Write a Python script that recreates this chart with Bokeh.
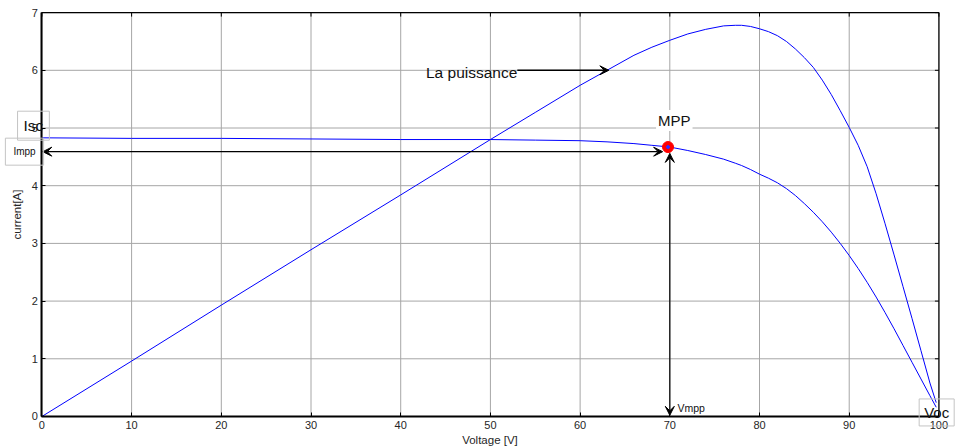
import math
from bokeh.plotting import figure
from bokeh.models import Label, Arrow, VeeHead, Range1d, FixedTicker
from bokeh.embed import file_html
from bokeh.resources import INLINE

# ---- data ----
voltage = [0, 10, 20, 30, 40, 50, 55, 60, 63, 66, 68, 70, 72, 74, 76, 77.3, 78, 79, 80, 81, 82, 83, 84, 85, 86, 87, 88,
           89, 90, 91, 92, 93, 94, 95, 96, 97, 98, 99, 99.7]
current = [4.83, 4.82, 4.82, 4.81, 4.80, 4.80, 4.79, 4.78, 4.76, 4.73, 4.70, 4.67, 4.61, 4.54, 4.46, 4.39, 4.35, 4.28,
           4.20, 4.13, 4.05, 3.95, 3.83, 3.69, 3.54, 3.375, 3.195, 3.00, 2.79, 2.565, 2.325, 2.07, 1.80, 1.52, 1.23,
           0.94, 0.65, 0.36, 0.16]
power = [0.0, 0.96, 1.93, 2.89, 3.84, 4.80, 5.27, 5.74, 6.00, 6.26, 6.40, 6.52, 6.63, 6.71, 6.77, 6.78, 6.78, 6.76,
         6.72, 6.67, 6.60, 6.50, 6.37, 6.22, 6.05, 5.83, 5.58, 5.30, 5.01, 4.70, 4.33, 3.86, 3.34, 2.80, 2.25, 1.70,
         1.14, 0.58, 0.24]
x_ticks = [0, 10, 20, 30, 40, 50, 60, 70, 80, 90, 100]
y_ticks = [0, 1, 2, 3, 4, 5, 6, 7]
mpp_v, mpp_i = 69.8, 4.67
impp, vmpp = 4.59, 70.0
power_arrow_tail = (53.0, 6.0)
power_arrow_tip = (63.2, 6.0)

FONT = "Liberation Sans"
XMIN, XMAX = x_ticks[0], x_ticks[-1]
YMIN, YMAX = y_ticks[0], y_ticks[-1]

p = figure(width=956, height=448, x_range=Range1d(-4.615, 101.96), y_range=Range1d(-0.555, 7.21),
           output_backend="svg", toolbar_location=None, min_border=0,
           x_axis_label="Voltage [V]", y_axis_label="current[A]")
p.outline_line_color = None
p.background_fill_color = "white"
p.grid.visible = False

for ax, ticks, loc, bounds in ((p.xaxis[0], x_ticks, YMIN, (XMIN, XMAX)),
                               (p.yaxis[0], y_ticks, XMIN, (YMIN, YMAX))):
    ax.fixed_location = loc
    ax.bounds = bounds
    ax.ticker = FixedTicker(ticks=ticks)
    ax.major_tick_in = 4
    ax.major_tick_out = 0
    ax.minor_tick_line_color = None
    ax.axis_line_width = 2
    ax.axis_line_color = "black"
    ax.major_tick_line_color = "black"
    ax.major_label_text_font = FONT
    ax.major_label_text_font_size = "11px"
    ax.major_label_text_color = "#262626"
    ax.axis_label_text_font = FONT
    ax.axis_label_text_font_size = "11.5px"
    ax.axis_label_text_font_style = "normal"
    ax.axis_label_text_color = "#262626"
p.xaxis[0].major_label_standoff = 5
p.xaxis[0].axis_label_standoff = 1
p.yaxis[0].major_label_standoff = 4
p.yaxis[0].axis_label_standoff = 5

# grid inside the 0..100 x 0..7 box
p.segment(x0=x_ticks, y0=[YMIN] * len(x_ticks), x1=x_ticks, y1=[YMAX] * len(x_ticks),
          line_color="#a6a6a6", line_width=1)
p.segment(x0=[XMIN] * len(y_ticks), y0=y_ticks, x1=[XMAX] * len(y_ticks), y1=y_ticks,
          line_color="#a6a6a6", line_width=1)
# top and right frame lines with inward ticks
p.segment(x0=[XMIN, XMAX], y0=[YMAX, YMIN], x1=[XMAX, XMAX], y1=[YMAX, YMAX],
          line_color="black", line_width=1.2)
p.ray(x=[XMAX] * len(y_ticks), y=y_ticks, length=4, length_units="screen", angle=math.pi,
      line_color="black", line_width=1)
p.ray(x=x_ticks, y=[YMAX] * len(x_ticks), length=4, length_units="screen", angle=-math.pi / 2,
      line_color="black", line_width=1)

p.line(voltage, current, line_color="#0000ff", line_width=1)
p.line(voltage, power, line_color="#0000ff", line_width=1)

head = dict(size=9, fill_color="black", line_color="black")
p.add_layout(Arrow(start=VeeHead(**head), end=VeeHead(**head), x_start=mpp_v - 0.6, y_start=impp,
                   x_end=XMIN + 0.1, y_end=impp, line_width=1.2))
p.add_layout(Arrow(start=VeeHead(**head), end=VeeHead(**head), x_start=vmpp, y_start=impp - 0.03,
                   x_end=vmpp, y_end=YMIN + 0.02, line_width=1.2))
p.add_layout(Arrow(end=VeeHead(**head), x_start=power_arrow_tail[0], y_start=power_arrow_tail[1],
                   x_end=power_arrow_tip[0], y_end=power_arrow_tip[1], line_width=1.5))

p.scatter([mpp_v], [mpp_i], size=11, fill_color="red", line_color="red")
p.scatter([mpp_v], [mpp_i], size=3, fill_color="#3030ff", line_color="#3030ff")


def lab(x, y, text, size, align="center", box=False, bg=None, pad=6):
    kw = dict(x=x, y=y, text=text, text_font=FONT, text_font_size=size, text_color="#111111",
              text_align=align, text_baseline="middle")
    if box:
        kw.update(border_line_color="#c4c4c4", border_line_width=1, padding=pad)
    elif bg:
        kw.update(background_fill_color=bg, padding=2)
    p.add_layout(Label(**kw))


lab(power_arrow_tail[0], power_arrow_tail[1] - 0.03, "La puissance", "15.5px", align="right")
lab(70.5, 5.13, "MPP", "15px", bg="white")
lab(-1.94, 4.59, "Impp", "10px", box=True, pad=8)
lab(-0.94, 5.04, "Isc", "15.5px", box=True, pad=6)
lab(70.86, 0.14, "Vmpp", "10.5px", align="left")
lab(99.75, 0.07, "Voc", "15px", box=True, pad=5)

open("out.html", "w").write(file_html(p, INLINE))
